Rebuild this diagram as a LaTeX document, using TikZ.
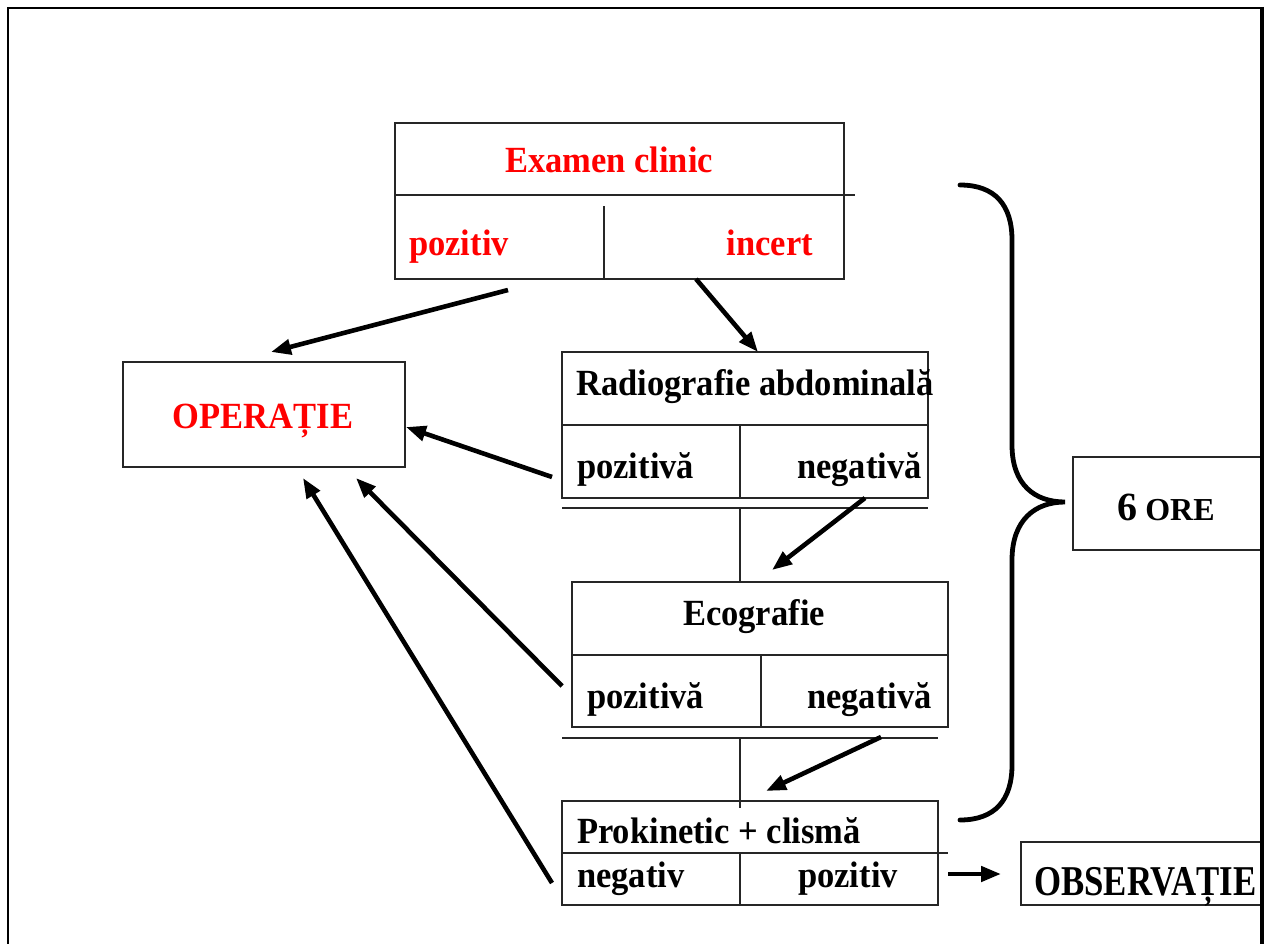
\documentclass[tikz,border=0pt]{standalone}
\usepackage{fontspec}
\setmainfont{Liberation Serif}
\usetikzlibrary{arrows.meta}
\definecolor{redtxt}{RGB}{255,0,0}
\newcommand{\tallt}[1]{\scalebox{1}[1.07]{#1}}
\tikzset{
  boxrect/.style={draw=black!85, line width=1.3pt, inner sep=0pt, minimum width=#1},
  rule/.style={draw=black!85, line width=1.3pt},
  txt/.style={inner sep=0pt, font=\fontsize{34.5}{40}\selectfont\bfseries},
  redt/.style={txt, text=redtxt},
  flow/.style={line width=4.6pt, -{Triangle[length=20pt,width=15pt]}},
  brace/.style={line width=4.8pt, line cap=round}
}
\begin{document}
\begin{tikzpicture}[x=1pt,y=-1pt]
\useasboundingbox (0,0) rectangle (1265,944);

% boxes
\node[boxrect=449, minimum height=156] (ec) at (619.5,201) {};
\node[boxrect=282, minimum height=105] (op) at (264,414.5) {};
\node[boxrect=366, minimum height=146] (rad) at (745,425) {};
\node[boxrect=376, minimum height=145] (eco) at (760,654.5) {};
\node[boxrect=376, minimum height=104] (pro) at (750,853) {};
\node[boxrect=241, minimum height=63] (obs) at (1141.5,873.5) {};
\node[boxrect=189, minimum height=93] (ore) at (1167.5,503.5) {};

% dividers
\draw[rule] (395,195) -- (855,195);
\draw[rule] (604,206) -- (604,279);
\draw[rule] (562,425) -- (928,425);
\draw[rule] (740,425) -- (740,498);
\draw[rule] (562,508) -- (928,508);
\draw[rule] (740,508) -- (740,582);
\draw[rule] (572,655) -- (948,655);
\draw[rule] (761,655) -- (761,727);
\draw[rule] (562,738) -- (938,738);
\draw[rule] (740,738) -- (740,808);
\draw[rule] (562,853) -- (948,853);
\draw[rule] (740,853) -- (740,905);

% texts
\node[redt, anchor=base] (tec) at (609,172) {\tallt{Examen clinic}};
\node[redt, anchor=base west] (tpoz) at (409,255) {\tallt{pozitiv}};
\node[redt, anchor=base east] (tinc) at (813,255) {\tallt{incert}};
\node[redt, anchor=base] (top) at (263,428) {\tallt{OPERAȚIE}};
\node[txt, anchor=base west] (trad) at (576,395) {\tallt{Radiografie abdominală}};
\node[txt, anchor=base west] (trp) at (577,478) {\tallt{pozitivă}};
\node[txt, anchor=base east] (trn) at (922,478) {\tallt{negativă}};
\node[txt, anchor=base] (teco) at (754,625) {\tallt{Ecografie}};
\node[txt, anchor=base west] (tep) at (587,708) {\tallt{pozitivă}};
\node[txt, anchor=base east] (ten) at (932,708) {\tallt{negativă}};
\node[txt, anchor=base west] (tpro) at (577,843) {\tallt{Prokinetic + clismă}};
\node[txt, anchor=base west] (tpn) at (577,887) {\tallt{negativ}};
\node[txt, anchor=base west] (tpp) at (798,887) {\tallt{pozitiv}};
\node[inner sep=0pt, anchor=base west, font=\fontsize{34.8}{40}\selectfont\bfseries] (tobs) at (1034,895) {\scalebox{1}[1.22]{OBSERVAȚIE}};
\node[inner sep=0pt, anchor=base] (tore) at (1166,520) {\bfseries\fontsize{40}{44}\selectfont 6\fontsize{32}{40}\selectfont\ ORE};

% arrow end points
\coordinate (a1s) at (508,290); \coordinate (a1e) at (271,352);
\coordinate (a2s) at (696,279); \coordinate (a2e) at (758,352);
\coordinate (a3s) at (552,477); \coordinate (a3e) at (406,427);
\coordinate (a4s) at (865,498); \coordinate (a4e) at (772,570);
\coordinate (a5s) at (562,686); \coordinate (a5e) at (356,478);
\coordinate (a6s) at (881,737); \coordinate (a6e) at (766,791);
\coordinate (a7s) at (552,883); \coordinate (a7e) at (303,478);
\coordinate (a8s) at (948,874); \coordinate (a8e) at (1001,874);

\draw[flow] (a1s) -- (a1e);
\draw[flow] (a2s) -- (a2e);
\draw[flow] (a3s) -- (a3e);
\draw[flow] (a4s) -- (a4e);
\draw[flow] (a5s) -- (a5e);
\draw[flow] (a6s) -- (a6e);
\draw[flow] (a7s) -- (a7e);
\draw[flow] (a8s) -- (a8e);

% brace
\draw[brace] (960,185) .. controls (995,185) and (1012,205) .. (1012,240)
  -- (1012,445) .. controls (1012,485) and (1035,502) .. (1065,502)
  .. controls (1035,502) and (1012,520) .. (1012,560)
  -- (1012,765) .. controls (1012,800) and (995,820) .. (960,820);

% outer frame
\draw[line width=2.4pt] (8,944) -- (8,8) -- (1262,8);
\draw[line width=3.8pt] (1262,6.8) -- (1262,944);
\end{tikzpicture}
\end{document}
